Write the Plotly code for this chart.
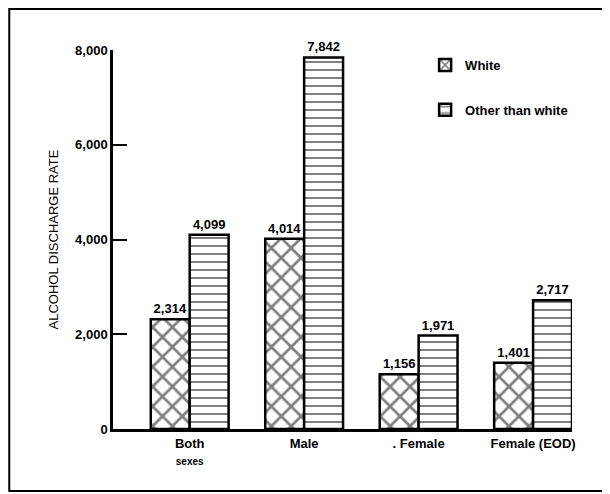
import plotly.graph_objects as go

categories = ["Both<br><span style='font-size:10px'>sexes</span>", "Male", ". Female", "Female (EOD)"]
white_vals = [2314, 4014, 1156, 1401]
other_vals = [4099, 7842, 1971, 2717]
series_names = ["White", "Other than white"]
y_ticks = [0, 2000, 4000, 6000, 8000]

FONT = "Liberation Sans"

fig = go.Figure()
fig.add_trace(go.Bar(
    x=categories, y=white_vals, name=series_names[0], legendgroup="w",
    marker=dict(color="white", line=dict(color="black", width=2.5),
                pattern=dict(shape="x", fgcolor="black", bgcolor="white", size=14, solidity=0.35)),
    texttemplate="%{y:,}", textposition="outside", cliponaxis=False,
    textfont=dict(family=FONT, size=13, color="black", weight="bold"),
))
fig.add_trace(go.Bar(
    x=categories, y=other_vals, name=series_names[1], legendgroup="o",
    marker=dict(color="white", line=dict(color="black", width=2.5),
                pattern=dict(shape="-", fgcolor="black", bgcolor="white", size=8, solidity=0.25)),
    texttemplate="%{y:,}", textposition="outside", cliponaxis=False,
    textfont=dict(family=FONT, size=13, color="black", weight="bold"),
))

fig.update_layout(
    width=610, height=494,
    margin=dict(l=105, r=46, t=42, b=73),
    paper_bgcolor="white", plot_bgcolor="white",
    barmode="group", bargap=0.32, bargroupgap=0,
    font=dict(family=FONT, color="black"),
    showlegend=True,
    legend=dict(x=0.68, y=1.0, xanchor="left", yanchor="top",
                font=dict(family=FONT, size=13, weight="bold"),
                tracegroupgap=25, bgcolor="rgba(0,0,0,0)"),
    xaxis=dict(showline=True, linecolor="black", linewidth=3, ticks="",
               range=[-0.67, 3.34], showgrid=False, automargin=False,
               tickfont=dict(family=FONT, size=13, weight="bold")),
    yaxis=dict(range=[0, 8000], tickvals=y_ticks, tickformat=",",
               showline=True, linecolor="black", linewidth=2.5,
               ticks="inside", ticklen=14, tickwidth=2, tickcolor="black",
               showgrid=False, zeroline=False, automargin=False,
               tickfont=dict(family=FONT, size=13, weight="bold"),
               title=dict(text="ALCOHOL DISCHARGE RATE", standoff=14,
                          font=dict(family=FONT, size=13))),
    shapes=[dict(type="rect", xref="paper", yref="paper",
                 x0=-0.226, x1=1.2, y0=-0.1636, y1=1.108,
                 line=dict(color="black", width=2), fillcolor="rgba(0,0,0,0)", layer="below")],
)

fig.write_html("out.html")
